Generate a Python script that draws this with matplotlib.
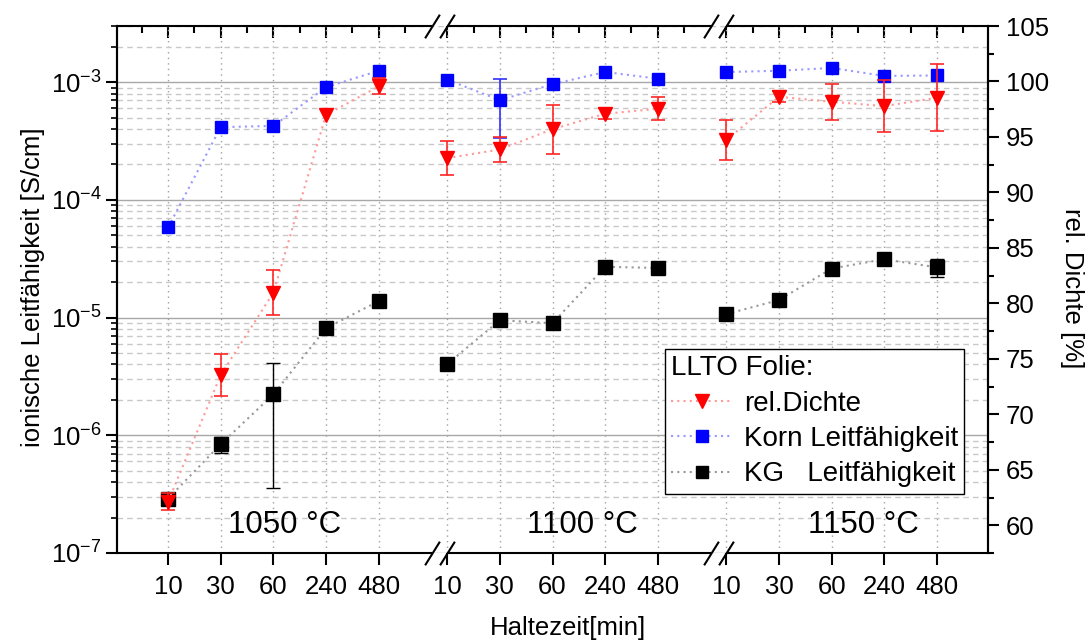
import numpy as np
import matplotlib
matplotlib.use("Agg")
import matplotlib.pyplot as plt
from matplotlib.lines import Line2D
from matplotlib import transforms
from matplotlib.ticker import FixedLocator, LogLocator, MultipleLocator, NullFormatter

plt.rcParams['font.family'] = ['Liberation Sans', 'DejaVu Sans']
plt.rcParams['mathtext.fontset'] = 'custom'
plt.rcParams['mathtext.rm'] = 'Liberation Sans'
plt.rcParams['mathtext.it'] = 'Liberation Sans:italic'
plt.rcParams['mathtext.default'] = 'regular'

# ---- data -------------------------------------------------------------
temperatures = ['1050 °C', '1100 °C', '1150 °C']
hold_times = ['10', '30', '60', '240', '480']

# grain (Korn) conductivity [S/cm], one row per sintering temperature
korn = [[5.83e-5, 4.15e-4, 4.25e-4, 9.07e-4, 1.25e-3],
        [1.05e-3, 7.03e-4, 9.60e-4, 1.22e-3, 1.07e-3],
        [1.22e-3, 1.25e-3, 1.32e-3, 1.13e-3, 1.14e-3]]
korn_err = [[0, 0, 0, 0, 0],
            [0, 3.7e-4, 0, 0, 0],
            [0, 0, 0, 0, 0]]

# grain boundary (KG) conductivity [S/cm]
kg = [[2.90e-7, 8.40e-7, 2.23e-6, 8.13e-6, 1.38e-5],
      [4.02e-6, 9.50e-6, 8.95e-6, 2.70e-5, 2.64e-5],
      [1.07e-5, 1.41e-5, 2.61e-5, 3.13e-5, 2.67e-5]]
kg_err = [[0, 1.3e-7, 1.87e-6, 0, 0],
          [0, 0, 0, 0, 0],
          [0, 0, 0, 0, 4.5e-6]]

# relative density [%]
dichte = [[62.13, 73.55, 80.97, 97.00, 99.55],
          [93.09, 93.87, 95.70, 97.09, 97.54],
          [94.74, 98.62, 98.17, 97.78, 98.53]]
dichte_err = [[0.75, 1.9, 2.0, 0, 0.72],
              [1.55, 1.15, 2.2, 0.5, 1.05],
              [1.8, 0.5, 1.6, 2.35, 3.0]]

# ---- layout of the broken x axis -------------------------------------
seg_start = [0.0, 5.3, 10.6]
breaks = [(5.01, 5.3), (10.31, 10.6)]
x_lim = (-0.97, 15.57)
temp_label_x = [2.22, 7.87, 13.21]

FS = 18.5

fig = plt.figure(figsize=(10.91, 6.42), dpi=100)
ax = fig.add_axes([117 / 1091, 1 - 553 / 642, (988 - 117) / 1091, (553 - 26) / 642])
ax2 = ax.twinx()

ax.set_xlim(*x_lim)
ax.set_yscale('log')
ax.set_ylim(1e-7, 3e-3)
ax2.set_ylim(57.5, 105.0)

red_line = (1.0, 0.6, 0.6)
blue_line = (0.6, 0.6, 1.0)
black_line = (0.6, 0.6, 0.6)
dots = (0, (1, 2))

idx = np.arange(len(hold_times))
for k in range(len(temperatures)):
    xs = seg_start[k] + idx

    yb = np.array(korn[k]); eb = np.array(korn_err[k])
    ax.plot(xs, yb, ls=dots, lw=1.5, color=blue_line, zorder=3)
    m = eb > 0
    if m.any():
        ax.errorbar(xs[m], yb[m], yerr=eb[m], fmt='none', ecolor='#3030ff',
                    elinewidth=1.2, capsize=4.8, capthick=1.2, zorder=4)
    ax.plot(xs, yb, ls='none', marker='s', ms=8.8, color='#0000ff', zorder=5)

    yk = np.array(kg[k]); ek = np.array(kg_err[k])
    ax.plot(xs, yk, ls=dots, lw=1.5, color=black_line, zorder=3)
    m = ek > 0
    if m.any():
        ax.errorbar(xs[m], yk[m], yerr=ek[m], fmt='none', ecolor='black',
                    elinewidth=1.0, capsize=4.8, capthick=1.0, zorder=4)
    ax.plot(xs, yk, ls='none', marker='s', ms=9.4, color='black', zorder=5)

    yd = np.array(dichte[k]); ed = np.array(dichte_err[k])
    ax2.plot(xs, yd, ls=dots, lw=1.5, color=red_line, zorder=3)
    m = ed > 0
    if m.any():
        ax2.errorbar(xs[m], yd[m], yerr=ed[m], fmt='none', ecolor=(1, 0.15, 0.15),
                     elinewidth=1.2, capsize=4.8, capthick=1.2, zorder=4)
    ax2.plot(xs, yd, ls='none', marker='v', ms=10.5, color='#ff0000', zorder=5)

# ---- ticks ------------------------------------------------------------
major_x = np.concatenate([s + idx for s in seg_start])
minor_x = np.array(sorted(set(np.round(np.concatenate(
    [s + np.arange(-0.5, len(hold_times), 1.0) for s in seg_start]), 3))))
minor_x = minor_x[(minor_x > x_lim[0]) & (minor_x < x_lim[1])]
minor_x = minor_x[~np.isclose(minor_x, seg_start[1] - 0.5) & ~np.isclose(minor_x, seg_start[2] - 0.5)]

ax.set_xticks(major_x)
ax.set_xticklabels(hold_times * len(temperatures))
ax.tick_params(axis='x', which='major', direction='out', length=8.5, width=1.5,
               labelsize=FS, pad=7, top=False, bottom=True)
ax2.tick_params(axis='x', which='both', top=False, bottom=False, labelbottom=False)

top = ax.secondary_xaxis('top')
top.set_xticks(major_x)
top.xaxis.set_minor_locator(FixedLocator(minor_x))
top.tick_params(which='major', direction='in', length=8.5, width=1.5, labeltop=False)
top.tick_params(which='minor', direction='in', length=5, width=1.5)
top.spines['top'].set_visible(False)

ax.yaxis.set_major_locator(LogLocator(base=10, numticks=20))
ax.yaxis.set_minor_locator(LogLocator(base=10, subs=np.arange(2, 10), numticks=20))
ax.yaxis.set_minor_formatter(NullFormatter())
ax.tick_params(axis='y', which='major', direction='out', length=8, width=1.5, labelsize=FS, pad=3)
ax.tick_params(axis='y', which='minor', direction='out', length=4.5, width=1.2)

ax2.yaxis.set_major_locator(MultipleLocator(5))
ax2.yaxis.set_minor_locator(MultipleLocator(2.5))
ax2.tick_params(axis='y', which='major', direction='out', length=8, width=1.5, labelsize=FS, pad=5)
ax2.tick_params(axis='y', which='minor', direction='out', length=4.5, width=1.5)

# ---- grid -------------------------------------------------------------
ax.grid(True, which='major', axis='y', color='#a8a8a8', lw=1.0, ls='-', zorder=0)
ax.grid(True, which='minor', axis='y', color='#c8c8c8', lw=1.0, ls=(0, (4, 3)), zorder=0)
ax.grid(True, which='major', axis='x', color='#a0a0a0', lw=1.0, ls=(0, (1, 3)), zorder=0)
ax.set_axisbelow(True)

# ---- spines with axis breaks ------------------------------------------
for a in (ax, ax2):
    a.spines['top'].set_visible(False)
    a.spines['bottom'].set_visible(False)
    for s in ('left', 'right'):
        a.spines[s].set_linewidth(1.5)

trans = transforms.blended_transform_factory(ax.transData, ax.transAxes)
edges = [x_lim[0]] + [v for b in breaks for v in b] + [x_lim[1]]
for y0 in (0.0, 1.0):
    for a0, b0 in zip(edges[0::2], edges[1::2]):
        ax2.add_line(Line2D([a0, b0], [y0, y0], transform=trans, color='black', lw=1.5,
                            solid_capstyle='butt', clip_on=False, zorder=6))
    for b in breaks:
        for xb in b:
            ax2.plot([xb], [y0], transform=trans, ls='none',
                     marker=[(-1, -1.6), (1, 1.6)], ms=17, mew=1.5, mec='black',
                     clip_on=False, zorder=6)

# ---- labels -----------------------------------------------------------
ax.set_xlabel('Haltezeit[min]', fontsize=FS, va='center')
ax.xaxis.set_label_coords(0.518, -0.142)
ax.set_ylabel('ionische Leitfähigkeit [S/cm]', fontsize=FS, va='center')
ax.yaxis.set_label_coords(-0.096, 0.505)
ax2.set_ylabel('rel. Dichte [%]', fontsize=FS, rotation=270, va='center')
ax2.yaxis.set_label_coords(1.0964, 0.503)

for k, name in enumerate(temperatures):
    ax.text(temp_label_x[k], 0.053, name, transform=trans, ha='center', va='center',
            fontsize=22.5, zorder=7)

# ---- legend -----------------------------------------------------------
handles = [
    Line2D([], [], ls=dots, lw=1.5, color=red_line, marker='v', ms=10.5,
           mfc='#ff0000', mec='#ff0000'),
    Line2D([], [], ls=dots, lw=1.5, color=blue_line, marker='s', ms=8.2,
           mfc='#0000ff', mec='#0000ff'),
    Line2D([], [], ls=dots, lw=1.5, color=black_line, marker='s', ms=9.0,
           mfc='black', mec='black'),
]
labels = ['rel.Dichte', 'Korn Leitfähigkeit', 'KG   Leitfähigkeit']
leg = ax2.legend(handles, labels, title='LLTO Folie:', loc='upper left',
                 bbox_to_anchor=(0.629, 0.387), borderaxespad=0, frameon=True,
                 fancybox=False, edgecolor='black', framealpha=1, fontsize=20,
                 title_fontsize=20, handlelength=2.2, handletextpad=0.42,
                 labelspacing=0.34, borderpad=0.22, alignment='left')
leg.get_frame().set_linewidth(1.0)
leg.set_zorder(10)

fig.savefig('out.png', dpi=100)
